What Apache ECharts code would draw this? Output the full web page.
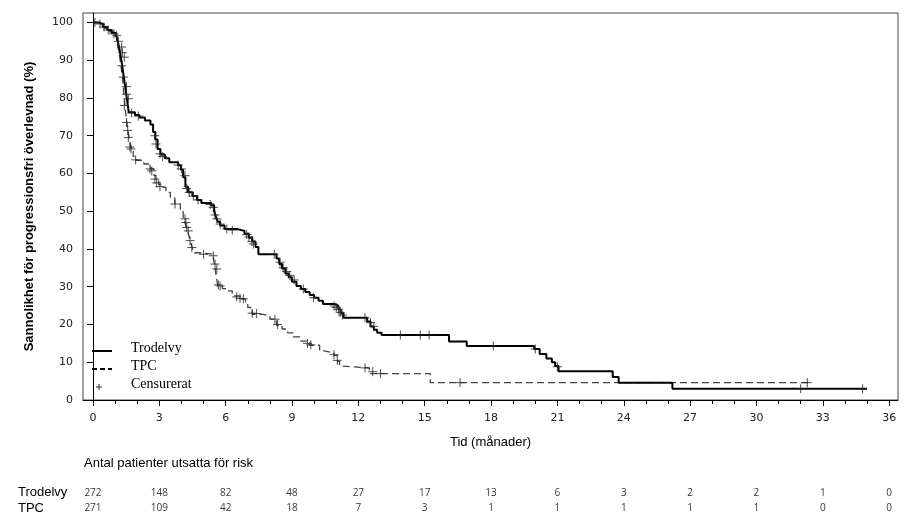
<!DOCTYPE html>
<html>
<head>
<meta charset="utf-8">
<script src="https://cdn.jsdelivr.net/npm/echarts@6/dist/echarts.min.js"></script>
<style>
    body { margin: 0; background: #fff; }
    #km_chart { width: 920px; height: 526px; }
</style>
</head>
<body>
<div id="km_chart"></div>
<script>
// Kaplan-Meier, progressionsfri överlevnad
var xTicks = [0, 3, 6, 9, 12, 15, 18, 21, 24, 27, 30, 33, 36];
var xMinorTicks = [1, 2, 4, 5, 7, 8, 10, 11, 13, 14, 16, 17, 19, 20, 22, 23, 25, 26, 28, 29, 31, 32, 34, 35];
var yTicks = [0, 10, 20, 30, 40, 50, 60, 70, 80, 90, 100];

// [månad, andel %] efter varje steg
var trodelvySteps = [
    [0, 100], [0.25, 99.6], [0.45, 98.8], [0.65, 98], [0.85, 97.2], [1.05, 96.5], [1.12, 95], [1.18, 93.5],
    [1.24, 91.5], [1.3, 89.5], [1.36, 87], [1.42, 84.5], [1.48, 82], [1.55, 79], [1.62, 76.2], [1.9, 75.5],
    [2.1, 74.8], [2.35, 74], [2.6, 73], [2.72, 71], [2.82, 69], [2.92, 66.5], [3.05, 65], [3.25, 64],
    [3.45, 63], [3.85, 62.2], [3.98, 61], [4.08, 59], [4.18, 56.5], [4.3, 55], [4.5, 54], [4.7, 53],
    [4.9, 52.2], [5.35, 51.5], [5.48, 50], [5.56, 48.5], [5.65, 47.2], [5.75, 46.2], [5.95, 45.3], [6.5, 44.8],
    [6.85, 44], [7.05, 43], [7.2, 42], [7.35, 40.5], [7.48, 38.6], [8.3, 37.5], [8.42, 36], [8.55, 34.8],
    [8.7, 33.5], [8.85, 32.5], [9.0, 31.3], [9.2, 30.2], [9.4, 29.4], [9.6, 28.6], [9.8, 27.8], [10.0, 27.1],
    [10.2, 26.3], [10.4, 25.4], [10.95, 24.9], [11.1, 24], [11.2, 23], [11.33, 21.8], [12.4, 20.8], [12.55, 19.5],
    [12.7, 18.6], [12.85, 17.8], [13.05, 17.2], [16.1, 15.5], [16.9, 14.3], [19.95, 13.5], [20.2, 12.2], [20.5, 11],
    [20.75, 10], [20.9, 9], [21.05, 7.6], [23.5, 6.1], [23.77, 4.6], [26.2, 3.0], [35.0, 3.0]
];
var tpcSteps = [
    [0, 100], [0.25, 99.5], [0.5, 98.5], [0.75, 97.5], [0.95, 96.5], [1.08, 95], [1.15, 93], [1.22, 90.5],
    [1.28, 88], [1.34, 85], [1.4, 81], [1.46, 77], [1.52, 74], [1.58, 71.5], [1.65, 69], [1.72, 66.8],
    [1.82, 64.5], [1.95, 63.5], [2.3, 62.5], [2.6, 61.2], [2.75, 59.5], [2.85, 58], [2.97, 57], [3.1, 56.3],
    [3.3, 55], [3.5, 53.5], [3.7, 52], [3.95, 50.5], [4.08, 48.5], [4.16, 47], [4.24, 45.5], [4.32, 44],
    [4.4, 42], [4.48, 40.5], [4.55, 39], [4.8, 38.6], [5.44, 37.8], [5.52, 35], [5.58, 32.5], [5.65, 30.2],
    [5.85, 29.5], [6.05, 28.9], [6.3, 27.6], [6.65, 26.7], [6.9, 25.5], [7.0, 24.5], [7.2, 22.7], [7.7, 22.3],
    [8.0, 21.4], [8.3, 19.8], [8.55, 18.8], [8.8, 17.8], [9.05, 16.7], [9.4, 15.6], [9.8, 14.5], [10.25, 13],
    [10.45, 12.5], [10.9, 11.8], [11.05, 10.2], [11.15, 9.0], [11.25, 8.5], [12.5, 7.0], [15.25, 4.6], [32.5, 4.6]
];
// censurerade observationer
var trodelvyCensored = [
    [0.09, 100], [0.32, 99.6], [0.5, 98.8], [0.69, 98], [0.95, 97], [1.07, 96.5], [1.15, 95], [1.3, 93.5],
    [1.33, 92], [1.42, 90.8], [1.3, 88.5], [1.37, 85.5], [1.52, 83], [1.52, 81], [1.6, 79.8], [1.42, 78],
    [1.75, 76], [2.05, 75.2], [2.8, 70], [2.85, 67.8], [3.03, 65.2], [3.15, 64.5], [3.85, 62.2], [4.0, 61.2],
    [4.16, 59.4], [4.24, 56], [4.35, 55], [4.54, 54], [4.75, 53], [5.3, 51.8], [5.44, 51], [5.52, 49],
    [5.6, 48], [5.75, 46.6], [6.05, 45.3], [6.3, 45], [6.95, 43.8], [7.05, 43.2], [7.18, 42], [7.25, 41.3],
    [8.2, 38.6], [8.46, 36.5], [8.6, 35], [8.76, 34], [8.9, 33], [9.1, 31.8], [9.51, 29.4], [9.97, 27.1],
    [10.9, 24.9], [11.0, 24.5], [11.1, 24], [11.18, 23.2], [11.28, 22.5], [12.3, 21.8], [12.55, 20.5], [12.7, 19.5],
    [13.9, 17.2], [14.8, 17.2], [15.2, 17.2], [18.1, 14.3], [20.0, 13.5], [21.0, 8.8], [32.0, 3.0], [34.8, 3.0]
];
var tpcCensored = [
    [1.52, 73.5], [1.57, 71.4], [1.6, 69.5], [1.67, 67], [1.72, 66.5], [1.93, 63.6], [2.58, 61.2], [2.66, 60.7],
    [2.8, 58.5], [2.88, 57.5], [3.03, 56.5], [3.71, 51.9], [4.16, 48], [4.2, 47], [4.24, 45.7], [4.31, 44.8],
    [4.39, 42.2], [4.47, 40.4], [5.0, 38.6], [5.44, 38.2], [5.52, 36], [5.6, 34.7], [5.67, 30.5], [5.75, 30.2],
    [6.5, 27.3], [6.65, 26.9], [6.8, 26.8], [7.2, 23], [7.4, 22.9], [8.23, 21.4], [8.35, 20], [9.7, 15],
    [9.85, 14.6], [10.9, 12], [11.05, 10.5], [12.3, 8.5], [12.65, 7.5], [13.0, 7.0], [16.6, 4.6], [32.3, 4.6]
];

// antal patienter i risk
var riskGroups = ['Trodelvy', 'TPC'];
var riskMonths = [0, 3, 6, 9, 12, 15, 18, 21, 24, 27, 30, 33, 36];
var riskTrodelvy = [272, 148, 82, 48, 27, 17, 13, 6, 3, 2, 2, 1, 0];
var riskTPC = [271, 109, 42, 18, 7, 3, 1, 1, 1, 1, 1, 0, 0];

var xMin = -0.45, xMax = 36.4;
var plusPath = 'path://M0,5L10,5M5,0L5,10';

var riskData = [];
for (var i = 0; i < riskMonths.length; i++) {
    riskData.push([riskMonths[i], riskGroups[0], riskTrodelvy[i]]);
    riskData.push([riskMonths[i], riskGroups[1], riskTPC[i]]);
}

var km_chart = echarts.init(document.getElementById('km_chart'));

var option_km = {
    animation: false,
    title: {
        text: 'Antal patienter utsatta för risk',
        left: 79,
        top: 452,
        textStyle: {
            fontFamily: 'Liberation Sans',
            fontSize: 13,
            fontWeight: 'normal',
            color: '#000'
        }
    },
    grid: [
        {left: 83, right: 22, top: 13, bottom: 126, show: true, borderColor: '#444', borderWidth: 1},
        {left: 83, right: 22, top: 485, height: 31}
    ],
    xAxis: [
        {
            gridIndex: 0,
            type: 'value',
            min: xMin,
            max: xMax,
            name: 'Tid (månader)',
            nameLocation: 'middle',
            nameGap: 36,
            nameTextStyle: {fontFamily: 'Liberation Sans', fontSize: 13, color: '#000'},
            axisLine: {show: true, lineStyle: {color: '#000', width: 1}},
            axisTick: {show: true, length: 6, customValues: xTicks, lineStyle: {color: '#000'}},
            axisLabel: {customValues: xTicks, fontFamily: 'DejaVu Sans', fontSize: 11, color: '#222', margin: 13},
            splitLine: {show: false}
        },
        {
            gridIndex: 0,
            type: 'value',
            position: 'bottom',
            min: xMin,
            max: xMax,
            axisLine: {show: false},
            axisTick: {show: true, length: 4, customValues: xMinorTicks, lineStyle: {color: '#000'}},
            axisLabel: {show: false},
            splitLine: {show: false}
        },
        {
            gridIndex: 1,
            type: 'value',
            min: xMin,
            max: xMax,
            show: false
        }
    ],
    yAxis: [
        {
            gridIndex: 0,
            type: 'value',
            min: 0,
            max: 102.5,
            name: 'Sannolikhet för progressionsfri överlevnad (%)',
            nameLocation: 'middle',
            nameGap: 47,
            nameTextStyle: {fontFamily: 'Liberation Sans', fontSize: 13, fontWeight: 'bold', color: '#000'},
            axisLine: {show: true, lineStyle: {color: '#000', width: 1}},
            axisTick: {show: true, length: 6, customValues: yTicks, lineStyle: {color: '#000'}},
            axisLabel: {customValues: yTicks, fontFamily: 'DejaVu Sans', fontSize: 11, color: '#222', margin: 10},
            splitLine: {show: false}
        },
        {
            gridIndex: 1,
            type: 'category',
            data: riskGroups,
            inverse: true,
            axisLine: {show: false},
            axisTick: {show: false},
            axisLabel: {
                interval: 0,
                fontFamily: 'Liberation Sans',
                fontSize: 13,
                color: '#000',
                align: 'left',
                margin: 65
            },
            splitLine: {show: false}
        }
    ],
    series: [
        {
            name: 'Trodelvy',
            type: 'line',
            step: 'end',
            symbol: 'none',
            data: trodelvySteps,
            lineStyle: {color: '#000', width: 2},
            z: 3
        },
        {
            name: 'TPC',
            type: 'line',
            step: 'end',
            symbol: 'none',
            data: tpcSteps,
            lineStyle: {color: '#444', width: 1.3, type: [7, 4]},
            z: 2
        },
        {
            name: 'Censurerat',
            type: 'scatter',
            symbol: plusPath,
            symbolSize: 9,
            data: trodelvyCensored,
            itemStyle: {color: 'none', borderColor: '#222', borderWidth: 1},
            z: 4
        },
        {
            name: 'Censurerat',
            type: 'scatter',
            symbol: plusPath,
            symbolSize: 9,
            data: tpcCensored,
            itemStyle: {color: 'none', borderColor: '#222', borderWidth: 1},
            z: 4
        },
        {
            name: 'risk',
            type: 'scatter',
            xAxisIndex: 2,
            yAxisIndex: 1,
            symbolSize: 1,
            itemStyle: {color: 'transparent'},
            data: riskData,
            label: {
                show: true,
                position: 'inside',
                formatter: function (p) { return p.value[2]; },
                fontFamily: 'Open Sans',
                fontSize: 10,
                color: '#000'
            }
        }
    ],
    // förklaring nere till vänster
    graphic: [
        {type: 'line', shape: {x1: 92, y1: 351, x2: 112, y2: 351}, style: {stroke: '#000', lineWidth: 2}},
        {type: 'text', x: 131, y: 348, style: {text: 'Trodelvy', font: '14px "Liberation Serif"', fill: '#000', verticalAlign: 'middle'}},
        {type: 'line', shape: {x1: 92, y1: 369, x2: 112, y2: 369}, style: {stroke: '#000', lineWidth: 2, lineDash: [5, 3]}},
        {type: 'text', x: 131, y: 366, style: {text: 'TPC', font: '14px "Liberation Serif"', fill: '#000', verticalAlign: 'middle'}},
        {type: 'line', shape: {x1: 96, y1: 387, x2: 102, y2: 387}, style: {stroke: '#333', lineWidth: 1}},
        {type: 'line', shape: {x1: 99, y1: 384, x2: 99, y2: 390}, style: {stroke: '#333', lineWidth: 1}},
        {type: 'text', x: 131, y: 384, style: {text: 'Censurerat', font: '14px "Liberation Serif"', fill: '#000', verticalAlign: 'middle'}}
    ]
};

km_chart.setOption(option_km);
</script>
</body>
</html>
